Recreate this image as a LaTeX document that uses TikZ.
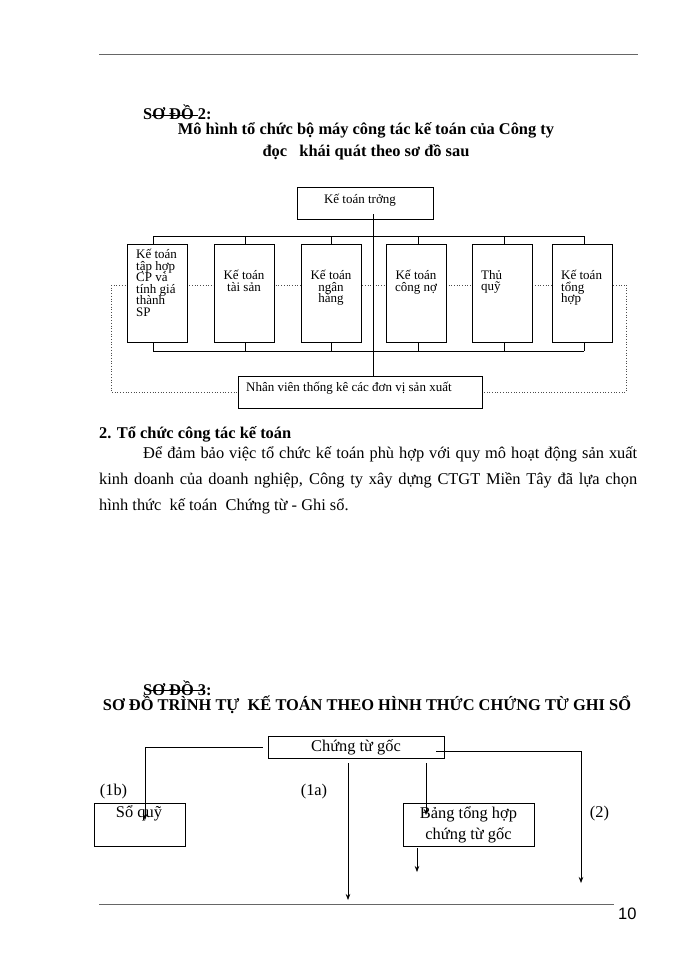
\documentclass[tikz,border=0pt]{standalone}
\usepackage{fontspec}
\setmainfont{Liberation Serif}
\newfontfamily\pagefont{Liberation Sans}
\usetikzlibrary{arrows.meta,positioning}
\colorlet{rulegray}{black!60}
\newcommand\tightlines{\lineskiplimit=-20pt\relax\lineskip=0pt\relax}

\tikzset{
    box/.style={draw, line width=0.7pt, fill=white, inner sep=0pt},
    small/.style={font=\fontsize{13}{11.5}\selectfont\tightlines, inner sep=0pt},
    txt/.style={font=\fontsize{16.4}{21}\selectfont, inner sep=0pt},
    head/.style={font=\fontsize{16.4}{21}\selectfont\bfseries, inner sep=0pt},
    link/.style={line width=0.7pt},
    flow/.style={line width=0.7pt, -{Stealth[length=6pt,width=4.5pt]}},
    dots/.style={dotted, line width=0.7pt, black!70},
    pagerule/.style={line width=1pt, rulegray}
}

\begin{document}
\begin{tikzpicture}[x=1pt,y=-1pt]
    \useasboundingbox (0,0) rectangle (700,960);
    \draw[pagerule] (99,55) -- (638,55);

    % so do 2
    \node[head, anchor=base west] (sd2) at (143,120) {SƠ ĐỒ 2:};
    \draw (152,115.5) -- (198,115.5);
    \node[head, anchor=base] (title2a) at (366,135) {Mô hình tổ chức bộ máy công tác kế toán của Công ty};
    \node[head, anchor=base] (title2b) at (366,157) {đọc\ \ \ khái quát theo sơ đồ sau};

    % dotted link to the staff box
    \draw[dots] (111,285) -- (626,285);
    \node[box, minimum width=244, minimum height=32] (nv) at (360,392) {};
    \draw[dots] (111,285) -- (111,392) -- (nv.west);
    \draw[dots] (626,285) -- (626,392) -- (nv.east);
    \node[small, anchor=base west] (nv-t) at (246,391) {Nhân viên thống kê các đơn vị sản xuất};

    \node[box, minimum width=136, minimum height=32] (ktt) at (365,203) {};
    \node[small, anchor=base] (ktt-t) at (360,203) {Kế toán trởng};

    % six sections
    \foreach \n/\cx/\o in {b1/157/-4, b2/244/1, b3/331.5/-0.5, b4/416/2, b5/502.5/1.5, b6/582.5/1.5} {
        \node[box, minimum width=60, minimum height=98] (\n) at (\cx,293) {};
        \draw[link] ([xshift=\o pt]\n.north) -- ++(0,-8);
        \draw[link] ([xshift=\o pt]\n.south) -- ++(0,9);
    }
    \draw[link] (153,236) -- (584,236);
    \draw[link] (153,351) -- (584,351);
    \draw[link] ([xshift=8pt,yshift=5pt]ktt.south) -- ([xshift=13pt]nv.north);

    \node[small, anchor=north west, align=left] (b1-t) at (136,249) {Kế toán\\tập hợp\\CP và\\tính giá\\thành\\SP};
    \node[small, anchor=north, align=center] (b2-t) at (244,270) {Kế toán\\tài sản};
    \node[small, anchor=north, align=center] (b3-t) at (331,270) {Kế toán\\ngân\\hàng};
    \node[small, anchor=north, align=center] (b4-t) at (416,270) {Kế toán\\công nợ};
    \node[small, anchor=north west, align=left] (b5-t) at (481,270) {Thủ\\quỹ};
    \node[small, anchor=north west, align=left] (b6-t) at (561,270) {Kế toán\\tổng\\hợp};

    % section 2 text
    \node[head, anchor=base west] (sec2) at (99,438) {2. Tổ chức công tác kế toán};
    \node[txt, anchor=base west] (par1) at (143,458) {\makebox[494pt][s]{Để đảm bảo việc tổ chức kế toán phù hợp với quy mô hoạt động sản xuất}};
    \node[txt, anchor=base west] (par2) at (99,484) {\makebox[538pt][s]{kinh doanh của doanh nghiệp, Công ty xây dựng CTGT Miền Tây đã lựa chọn}};
    \node[txt, anchor=base west] (par3) at (99,510) {hình thức\ \ kế toán\ \ Chứng từ - Ghi sổ.};

    % so do 3
    \node[head, anchor=base west] (sd3) at (143,695) {SƠ ĐỒ 3:};
    \draw (150,690.5) -- (205,690.5);
    \node[head, anchor=base] (title3) at (367,710) {SƠ ĐỒ TRÌNH TỰ\ \ KẾ TOÁN THEO HÌNH THỨC CHỨNG TỪ GHI SỔ};

    \node[box, txt, minimum width=176, minimum height=22] (ctg) at (356,747) {Chứng từ gốc};
    \node[box, minimum width=91, minimum height=43] (sq) at (139.5,824.5) {};
    \node[txt, anchor=base] (sq-t) at (139,817) {Sổ quỹ};
    \node[box, txt, minimum width=131, minimum height=43, align=center] (bth) at (468.5,824.5) {Bảng tổng hợp\\chứng từ gốc};

    \coordinate (sq-in) at (145,820);
    \coordinate (ghiso) at (348,900);
    \coordinate (bth-in) at (426,815);
    \coordinate (bth-out) at (417,872);
    \coordinate (so2) at (581,883);

    \draw[flow] ([xshift=-5pt]ctg.west) -| (sq-in);
    \draw[flow] ([xshift=-8pt,yshift=-5pt]ctg.south) -- (ghiso);
    \draw[flow] ([xshift=70pt,yshift=-5pt]ctg.south) -- (bth-in);
    \draw[flow] ([xshift=-51.5pt,yshift=-2pt]bth.south) -- (bth-out);
    \draw[flow] ([xshift=-8pt,yshift=-4pt]ctg.east) -| (so2);

    \node[txt, anchor=base] (l1b) at (113.5,795) {(1b)};
    \node[txt, anchor=base] (l1a) at (314,795) {(1a)};
    \node[txt, anchor=base] (l2) at (599.5,817) {(2)};

    \draw[pagerule] (99,904) -- (614,904);
    \node[anchor=base west, inner sep=0pt, font=\pagefont\fontsize{16.5}{20}\selectfont] (pg) at (618,919) {10};
\end{tikzpicture}
\end{document}
